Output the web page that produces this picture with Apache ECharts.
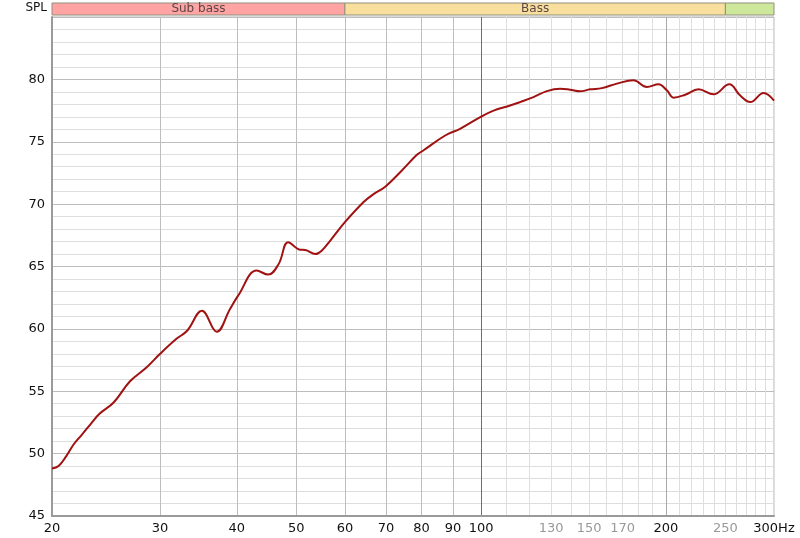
<!DOCTYPE html>
<html>
<head>
<meta charset="utf-8">
<script src="https://cdn.jsdelivr.net/npm/echarts@6/dist/echarts.min.js"></script>
<style>html,body{margin:0;padding:0;background:#fff;}#c{width:800px;height:538px;}</style>
</head>
<body>
<div id="c"></div>
<script>
// Frequency (Hz) and SPL (dB)
var freqs = [20, 20.5, 21.1, 21.7, 22.4, 23.1, 23.9, 25.2, 26.8, 28.5, 30, 31.9, 33.2, 35.1, 37.1, 39, 40.2, 43.1, 45, 46.8, 48.5, 50.7, 51.7, 53.7, 55, 56.8, 60, 64.3, 66.8, 69.8, 74.3, 78.6, 80.5, 87.4, 92.4, 99.7, 104.8, 111.5, 115.8, 121.7, 128, 134.5, 139.6, 145, 150.5, 157.3, 166.4, 177.1, 186.2, 194.5, 200.7, 205.8, 215, 226, 239.1, 253.7, 264.3, 274.4, 288.5, 300];
var spl = [48.8, 49.0, 49.8, 50.75, 51.55, 52.35, 53.2, 54.1, 55.8, 56.9, 58.0, 59.2, 59.85, 61.45, 59.77, 61.6, 62.66, 64.67, 64.35, 65.2, 66.94, 66.35, 66.33, 66.0, 66.27, 67.08, 68.55, 70.15, 70.8, 71.4, 72.7, 73.95, 74.3, 75.5, 76.04, 76.98, 77.5, 77.9, 78.18, 78.58, 79.06, 79.25, 79.17, 79.04, 79.2, 79.3, 79.66, 79.92, 79.39, 79.6, 79.12, 78.53, 78.77, 79.2, 78.8, 79.6, 78.7, 78.18, 78.9, 78.3];

// Axis tick labels
var xTickLabels = [20, 30, 40, 50, 60, 70, 80, 90, 100, 130, 150, 170, 200, 250, 300];
var xTickGrey = [130, 150, 170, 250];
var yTickLabels = [45, 50, 55, 60, 65, 70, 75, 80];

// Frequency bands
var bandNames = ['Sub bass', 'Bass', ''];
var bandStarts = [20, 60, 250];
var bandEnds = [60, 250, 300];
var bandColors = ['#ffa3a3', '#f9df9d', '#cde89a'];

// vertical grid lines
var vLines = [];
var vColors = [];
for (var f = 20; f <= 300; f += 10) {
  vLines.push(f);
  if (f === 100) vColors.push('#6e6e6e');
  else if (f === 200) vColors.push('#a9a9a9');
  else if (f < 100) vColors.push('#bdbdbd');
  else vColors.push('#dedede');
}
var hColors = ['#bdbdbd', '#dedede', '#dedede', '#dedede', '#dedede'];

var data = freqs.map(function (f, i) { return [f, spl[i]]; });

var bandAreas = bandNames.map(function (n, i) {
  return [
    { xAxis: bandStarts[i], name: n, itemStyle: { color: bandColors[i] } },
    { xAxis: bandEnds[i] }
  ];
});

var chart = echarts.init(document.getElementById('c'), null, { renderer: 'canvas' });
chart.setOption({
  animation: false,
  backgroundColor: '#ffffff',
  textStyle: { fontFamily: 'DejaVu Sans' },
  grid: [
    { left: 52, right: 26, top: 17, bottom: 22, show: true, borderColor: '#b5b5b5', borderWidth: 1, backgroundColor: '#ffffff' },
    { left: 52, right: 26, top: 3, height: 12, show: false }
  ],
  xAxis: [
    {
      type: 'log', gridIndex: 0, min: 20, max: 300, logBase: 10,
      axisLine: { show: true, lineStyle: { color: '#9a9a9a', width: 2 } },
      axisTick: { show: false, customValues: vLines },
      splitLine: { show: true, lineStyle: { color: vColors, width: 1 } },
      minorSplitLine: { show: false },
      axisLabel: {
        customValues: xTickLabels,
        margin: 6,
        fontSize: 13,
        fontFamily: 'DejaVu Sans',
        formatter: function (v) { var r = Math.round(v); return r === 300 ? '300Hz' : String(r); },
        color: function (v) { return xTickGrey.indexOf(Math.round(v)) >= 0 ? '#999999' : '#111111'; }
      }
    },
    {
      type: 'log', gridIndex: 1, min: 20, max: 300, logBase: 10, show: false,
      splitLine: { show: false }
    }
  ],
  yAxis: [
    {
      type: 'value', gridIndex: 0, min: 45, max: 85, interval: 1,
      axisLine: { show: true, lineStyle: { color: '#9a9a9a', width: 2 } },
      axisTick: { show: false },
      splitLine: { show: true, lineStyle: { color: hColors, width: 1 } },
      axisLabel: {
        margin: 7, fontSize: 13, color: '#111111', fontFamily: 'DejaVu Sans',
        formatter: function (v) { return yTickLabels.indexOf(v) >= 0 ? String(v) : ''; }
      }
    },
    { type: 'value', gridIndex: 1, min: 0, max: 1, show: false, splitLine: { show: false } }
  ],
  graphic: [
    { type: 'text', right: 800 - 47, top: 2, style: { text: 'SPL', fontSize: 12, fontFamily: 'DejaVu Sans', fill: '#111', textAlign: 'right' } }
  ],
  series: [
    {
      type: 'line', xAxisIndex: 1, yAxisIndex: 1,
      data: [[100, 0.5]], symbol: 'none', lineStyle: { opacity: 0 },
      silent: true,
      markArea: {
        silent: true,
        itemStyle: { borderColor: '#8f8f7f', borderWidth: 1 },
        label: { show: true, position: 'inside', color: '#5a4646', fontSize: 12, fontFamily: 'DejaVu Sans' },
        data: bandAreas
      }
    },
    {
      type: 'line', xAxisIndex: 0, yAxisIndex: 0,
      data: data, showSymbol: false, smooth: 0.4,
      lineStyle: { color: '#a01212', width: 2 },
      itemStyle: { color: '#a01212' }
    }
  ]
});
</script>
</body>
</html>
